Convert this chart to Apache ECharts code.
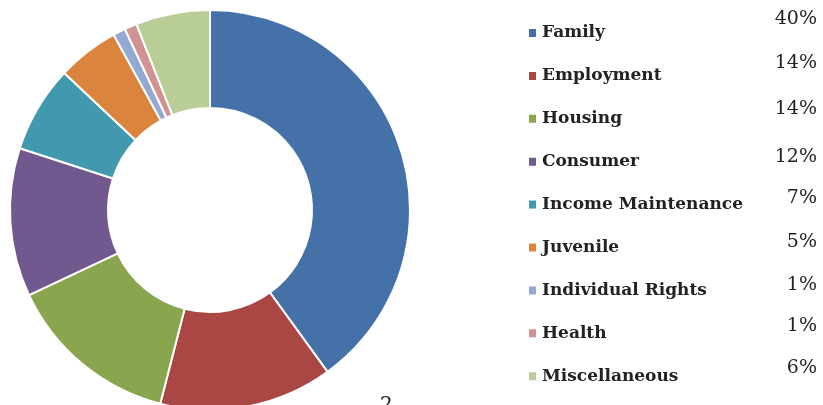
<!DOCTYPE html>
<html><head><meta charset="utf-8">
<script src="https://cdn.jsdelivr.net/npm/echarts@6/dist/echarts.min.js"></script>
<style>html,body{margin:0;padding:0;background:#fff}#c{width:823px;height:405px}</style>
</head><body><div id="c"></div>
<script>
const categories = ['Family','Employment','Housing','Consumer','Income Maintenance','Juvenile','Individual Rights','Health','Miscellaneous'];
const values = [40,14,14,12,7,5,1,1,6];
const colors = ['#4472A8','#AA4644','#89A54E','#71588F','#4198AF','#DB843D','#93A9CF','#D19392','#B9CD96'];

const legendTop = 23, rowGap = 42.9;
const pctOffsets = [-13,-12,-9,-4,-6,-5,-5,-7,-8];
const chart = echarts.init(document.getElementById('c'));
const graphics = values.map((v,i)=>({
  type:'text', right: 6, top: legendTop + i*rowGap + pctOffsets[i],
  style:{text: v + '%', font:'19px "DejaVu Serif"', fill:'#222'}
}));
graphics.push({type:'text', left:380, top:396, style:{text:'2', font:'20px "DejaVu Serif"', fill:'#222'}});
chart.setOption({
  animation:false,
  color: colors,
  legend:{
    orient:'vertical', left:527, top:legendTop, padding:0, itemWidth:9, itemHeight:10, itemGap:22.9,
    icon:'rect',
    textStyle:{fontFamily:'DejaVu Serif', fontWeight:'bold', fontSize:17, color:'#222', lineHeight:20},
    data: categories
  },
  graphic: graphics,
  series:[{
    type:'pie', center:[210,210], radius:[102,200], startAngle:90, clockwise:true,
    label:{show:false}, labelLine:{show:false},
    itemStyle:{borderColor:'#fff', borderWidth:2},
    data: categories.map((n,i)=>({name:n, value:values[i]}))
  }]
});
</script></body></html>
